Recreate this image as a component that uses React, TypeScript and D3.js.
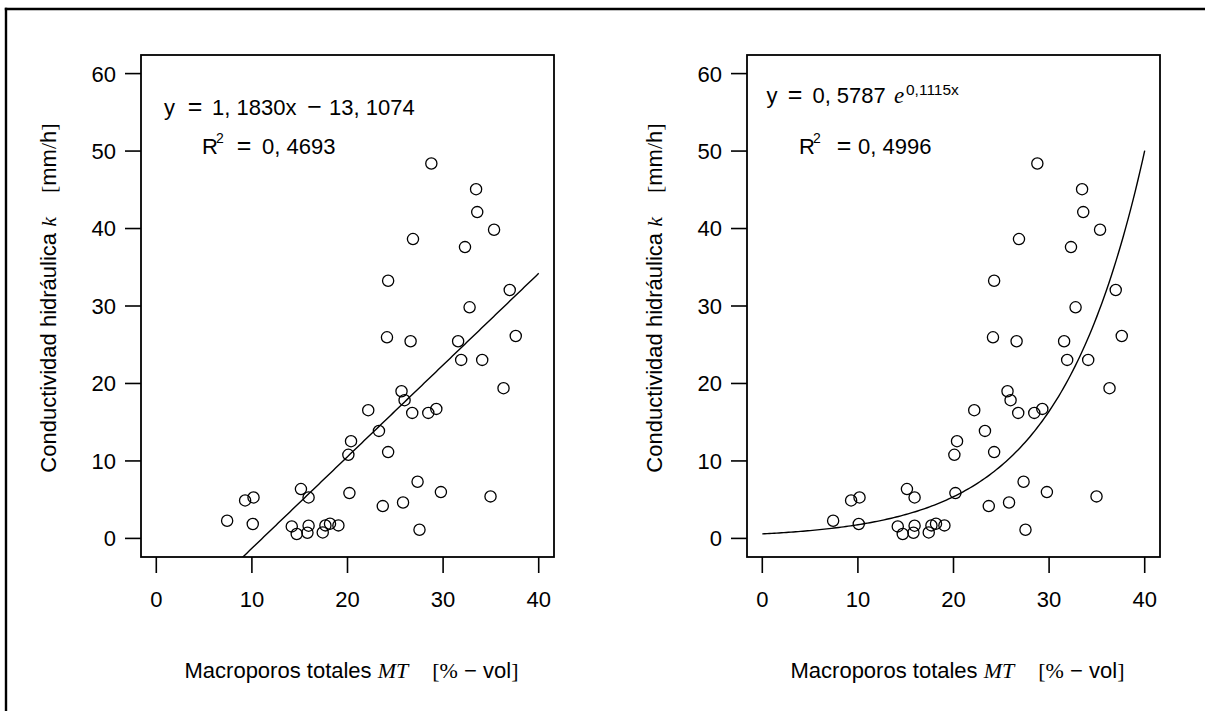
import React from "react";
import * as d3 from "d3";

// Macroporos totales MT [% vol]
const mtValues = [
  28.77, 33.45, 33.57, 35.33, 26.85, 32.29, 24.25, 36.97, 32.77, 24.13,
  26.6, 31.57, 37.6, 31.89, 34.09, 36.32, 25.65, 25.97, 22.17, 26.77,
  28.45, 29.29, 23.29, 20.37, 20.09, 24.25, 27.33, 20.2, 29.77, 34.96,
  23.69, 25.81, 27.53, 15.13, 15.93, 9.29, 10.17, 7.41, 10.09, 14.17,
  14.69, 15.93, 15.81, 17.41, 17.69, 18.17, 19.05,
];
// Conductividad hidráulica k [mm/h]
const kValues = [
  48.4, 45.08, 42.12, 39.84, 38.64, 37.6, 33.26, 32.06, 29.83, 25.96,
  25.45, 25.45, 26.13, 23.04, 23.04, 19.39, 19.0, 17.84, 16.55, 16.2,
  16.2, 16.72, 13.88, 12.55, 10.79, 11.14, 7.31, 5.85, 5.98, 5.42,
  4.17, 4.64, 1.12, 6.37, 5.29, 4.9, 5.29, 2.28, 1.86, 1.55,
  0.57, 1.64, 0.73, 0.77, 1.68, 1.9, 1.68,
];
const xTicks = [0, 10, 20, 30, 40];
const yTicks = [0, 10, 20, 30, 40, 50, 60];

// fitted models
const linSlope = 1.183;
const linIntercept = -13.1074;
const expA = 0.5787;
const expB = 0.1115;

const FONT = "'Liberation Sans', Arial, Helvetica, sans-serif";
const SERIF = "'Liberation Serif', 'DejaVu Serif', serif";

type PanelProps = { left: number; kind: "lin" | "exp"; id: string };

function Op({ x, y, s }: { x: number; y: number; s: string }) {
  return (
    <text x={x} y={y} textAnchor="middle" fontSize={25} fontFamily={FONT}>
      {s}
    </text>
  );
}

function Panel({ left, kind, id }: PanelProps) {
  const top = 55;
  const bottom = 557;
  const right = left + 413;
  const x = d3.scaleLinear().domain([-1.6, 41.6]).range([left, right]);
  const y = d3.scaleLinear().domain([-2.4, 62.4]).range([bottom, top]);
  const tickLen = 16;

  const xs = d3.range(0, 40.001, 0.25);
  const fitFn = kind === "lin" ? (v: number) => linSlope * v + linIntercept : (v: number) => expA * Math.exp(expB * v);
  const line = d3
    .line<number>()
    .x((v) => x(v))
    .y((v) => y(fitFn(v)));

  const cx = x(20);
  const L = left;
  return (
    <g>
      <defs>
        <clipPath id={id}>
          <rect x={left} y={top} width={right - left} height={bottom - top} />
        </clipPath>
      </defs>
      {/* points */}
      {mtValues.map((v, i) => (
        <circle key={i} cx={x(v)} cy={y(kValues[i])} r={5.6} fill="none" stroke="#000" strokeWidth={1.3} />
      ))}
      {/* fit */}
      <path d={line(xs) || ""} fill="none" stroke="#000" strokeWidth={1.4} clipPath={`url(#${id})`} />
      {/* box */}
      <rect x={left} y={top} width={right - left} height={bottom - top} fill="none" stroke="#000" strokeWidth={1.8} />
      {/* y axis */}
      {yTicks.map((t) => (
        <g key={"y" + t}>
          <line x1={left - tickLen} x2={left} y1={y(t)} y2={y(t)} stroke="#000" strokeWidth={1.6} />
          <text x={left - 25} y={y(t)} dy="0.36em" textAnchor="end" fontSize={22} fontFamily={FONT}>
            {t}
          </text>
        </g>
      ))}
      {/* x axis */}
      {xTicks.map((t) => (
        <g key={"x" + t}>
          <line x1={x(t)} x2={x(t)} y1={bottom} y2={bottom + tickLen} stroke="#000" strokeWidth={1.6} />
          <text x={x(t)} y={606.5} textAnchor="middle" fontSize={22} fontFamily={FONT}>
            {t}
          </text>
        </g>
      ))}
      {/* y label */}
      <text transform={`translate(${left - 85},298) rotate(-90)`} textAnchor="middle" fontSize={22} fontFamily={FONT}>
        <tspan>Conductividad hidráulica </tspan>
        <tspan fontFamily={SERIF} fontStyle="italic">k</tspan>
        <tspan dx={24} fontFamily={SERIF}>[</tspan>
        <tspan>mm</tspan>
        <tspan fontFamily={SERIF}>/</tspan>
        <tspan>h</tspan>
        <tspan fontFamily={SERIF}>]</tspan>
      </text>
      {/* x label */}
      <text x={cx + 4} y={678} textAnchor="middle" fontSize={22} fontFamily={FONT}>
        <tspan>Macroporos totales </tspan>
        <tspan fontFamily={SERIF} fontStyle="italic">MT</tspan>
        <tspan dx={24} fontFamily={SERIF}>[%</tspan>
        <tspan> − vol</tspan>
        <tspan fontFamily={SERIF}>]</tspan>
      </text>
      {/* equations */}
      {kind === "lin" ? (
        <g fontFamily={FONT} fontSize={22}>
          <text x={L + 23} y={115}>y</text>
          <Op x={L + 54} y={115} s="=" />
          <text x={L + 71} y={115}>1, 1830x</text>
          <Op x={L + 173.5} y={115} s="−" />
          <text x={L + 188} y={115}>13, 1074</text>
          <text x={L + 61} y={154}>R</text>
          <text x={L + 75} y={143} fontSize={14}>2</text>
          <Op x={L + 103} y={154} s="=" />
          <text x={L + 121} y={154}>0, 4693</text>
        </g>
      ) : (
        <g fontFamily={FONT} fontSize={22}>
          <text x={L + 19.5} y={103}>y</text>
          <Op x={L + 48} y={103} s="=" />
          <text x={L + 65.4} y={103}>0, 5787</text>
          <text x={L + 147} y={103} fontSize={23} fontFamily={SERIF} fontStyle="italic">e</text>
          <text x={L + 159} y={95} fontSize={15.5}>0,1115x</text>
          <text x={L + 52} y={154}>R</text>
          <text x={L + 66} y={143} fontSize={14}>2</text>
          <Op x={L + 97} y={154} s="=" />
          <text x={L + 111} y={154}>0, 4996</text>
        </g>
      )}
    </g>
  );
}

export default function App() {
  return (
    <svg
      width={1205}
      height={711}
      style={{ position: "absolute", left: 0, top: 0, background: "#fff" }}
    >
      <rect x={0} y={0} width={1205} height={711} fill="#fff" />
      <line x1={4.8} x2={1205} y1={9} y2={9} stroke="#000" strokeWidth={2.4} />
      <line x1={6} x2={6} y1={7.8} y2={711} stroke="#000" strokeWidth={2.4} />
      <Panel left={141} kind="lin" id="clipL" />
      <Panel left={747} kind="exp" id="clipR" />
    </svg>
  );
}
